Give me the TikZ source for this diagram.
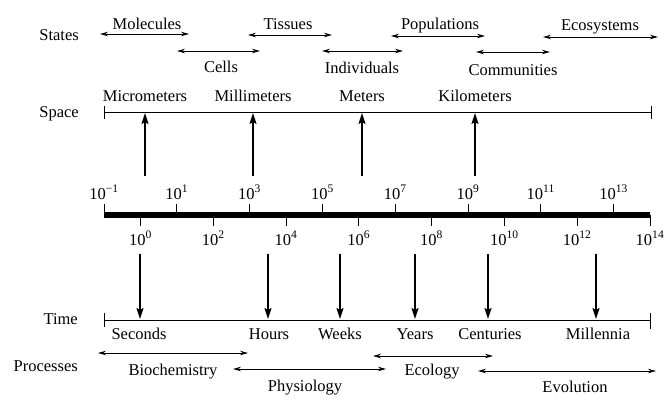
\documentclass[tikz,border=0pt]{standalone}
\usepackage{fontspec}
\setmainfont{Liberation Serif}
\usetikzlibrary{arrows.meta}
\tikzset{
  rowtitle/.style={anchor=base east},
  scaletext/.style={anchor=base},
  scaleline/.style={line width=0.9pt},
  tickmark/.style={line width=1pt},
  spanarrow/.style={{Stealth[length=8pt,width=4.5pt]}-{Stealth[length=8pt,width=4.5pt]}, line width=0.9pt},
  pointer/.style={-{Stealth[length=11pt,width=7pt,inset=2pt]}, line width=1.6pt}
}

\begin{document}
\begin{tikzpicture}[x=1pt, y=-1pt, font=\fontsize{16.5}{19}\selectfont, every node/.style={inner sep=0pt}]
			
			% Fix the page to the reference size
			\useasboundingbox (0,0) rectangle (666,404);
			
			% --- Row titles ---
			\node[rowtitle] (states)    at (79,41)  {States};
			\node[rowtitle] (space)     at (79,117) {Space};
			\node[rowtitle] (time)      at (78,324) {Time};
			\node[rowtitle] (processes) at (78,371) {Processes};
			
			% --- States (levels of organisation) ---
			\foreach \n/\a/\b/\y in {molecules/100/189/34, tissues/248/332/35, populations/391/485/36, ecosystems/543/658/37, cells/177/260/51, individuals/322/403/51, communities/476/550/52} {
				\coordinate (\n-w) at (\a,\y);
				\coordinate (\n-e) at (\b,\y);
				\draw[spanarrow] (\n-w) -- (\n-e);
			}
			\node[scaletext] (molecules)   at (147,30) {Molecules};
			\node[scaletext] (tissues)     at (288,30) {Tissues};
			\node[scaletext] (populations) at (440,30) {Populations};
			\node[scaletext] (ecosystems)  at (600,31) {Ecosystems};
			\node[scaletext] (cells)       at (221,73) {Cells};
			\node[scaletext] (individuals) at (362,74) {Individuals};
			\node[scaletext] (communities) at (513,75) {Communities};
			
			% --- Space line ---
			\coordinate (spaceW) at (104,112);
			\coordinate (spaceE) at (651,112);
			\draw[scaleline] (spaceW) -- (spaceE);
			\draw[scaleline] (spaceW) ++(0,-6) -- ++(0,13);
			\draw[scaleline] (spaceE) ++(0,-6) -- ++(0,13);
			
			% --- Log scale (powers of ten) ---
			\coordinate (axisW) at (104,215);
			\coordinate (axisE) at (650,215);
			\draw[line width=5.5pt] (axisW) -- (axisE);
			\foreach \d/\e in {-1/{−1}, 1/1, 3/3, 5/5, 7/7, 9/9, 11/11, 13/13} {
				\coordinate (tick\d) at ({104+(\d+1)*36.4},215);
				\draw[tickmark] (tick\d) -- ++(0,-11);
				\node[scaletext] (pow\d) at ({104+(\d+1)*36.4},199) {10\textsuperscript{\e}};
			}
			\foreach \d in {0,2,...,14} {
				\coordinate (tick\d) at ({104+(\d+1)*36.4},215);
				\draw[tickmark] (tick\d) -- ++(0,11);
				\node[scaletext] (pow\d) at ({104+(\d+1)*36.4},245) {10\textsuperscript{\d}};
			}
			
			% --- Space pointers ---
			\foreach \n/\x/\t in {micro/145/Micrometers, milli/253/Millimeters, meter/362/Meters, kilo/475/Kilometers} {
				\node[scaletext] (\n) at (\x,101) {\t};
				\coordinate (\n-foot) at (\x,176);
				\coordinate (\n-head) at (\x,113);
				\draw[pointer] (\n-foot) -- (\n-head);
			}
			
			% --- Time line ---
			\coordinate (timeW) at (104,320);
			\coordinate (timeE) at (650,320);
			\draw[scaleline] (timeW) -- (timeE);
			\draw[scaleline] (timeW) ++(0,-7) -- ++(0,14);
			\draw[scaleline] (timeE) ++(0,-7) -- ++(0,16);
			
			% --- Time pointers ---
			\foreach \n/\x/\lx/\t in {seconds/140/139/Seconds, hours/268/269/Hours, weeks/340/340/Weeks, years/415/415/Years, centuries/488/490/Centuries, millennia/596/598/Millennia} {
				\coordinate (\n-top) at (\x,254);
				\coordinate (\n-tip) at (\x,319);
				\draw[pointer] (\n-top) -- (\n-tip);
				\node[scaletext] (\n) at (\lx,339) {\t};
			}
			
			% --- Processes ---
			\foreach \n/\a/\b/\y/\lx/\ly/\t in {biochem/98/248/353/173/375/Biochemistry, physio/233/386/369/305/391/Physiology, ecology/373/493/356/432/375/Ecology, evolution/478/656/371/575/392/Evolution} {
				\coordinate (\n-w) at (\a,\y);
				\coordinate (\n-e) at (\b,\y);
				\draw[spanarrow] (\n-w) -- (\n-e);
				\node[scaletext] (\n) at (\lx,\ly) {\t};
			}
		\end{tikzpicture}
\end{document}
